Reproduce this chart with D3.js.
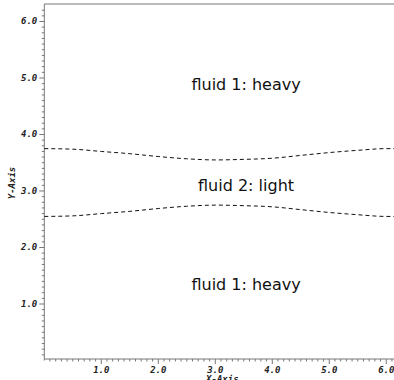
<!DOCTYPE html>
<html>
<head>
<meta charset="utf-8">
<script src="https://cdn.jsdelivr.net/npm/d3@7"></script>
<style>
  body { margin: 0; background: #fff; }
  svg { display: block; }
  .tick-label { font-family: "DejaVu Sans Mono", monospace; font-weight: bold; font-style: italic; font-size: 9px; fill: #222; }
  .region-label { font-family: "DejaVu Sans", sans-serif; font-size: 16px; fill: #111; }
</style>
</head>
<body>
<svg id="svg"></svg>
<script>
// Interface positions
const xs      = [0, 0.5, 1.0, 1.5, 2.0, 2.5, 3.0, 3.5, 4.0, 4.5, 5.0, 5.5, 6.0, 6.28];
const upperY  = [3.75, 3.74, 3.70, 3.66, 3.61, 3.57, 3.55, 3.56, 3.58, 3.63, 3.68, 3.72, 3.75, 3.75];
const lowerY  = [2.55, 2.56, 2.60, 2.64, 2.69, 2.73, 2.75, 2.74, 2.72, 2.67, 2.62, 2.58, 2.55, 2.55];

const majorTicks = [1, 2, 3, 4, 5, 6];
const tickLabels = ['1.0', '2.0', '3.0', '4.0', '5.0', '6.0'];

const regionNames = ['fluid 1: heavy', 'fluid 2: light', 'fluid 1: heavy'];
const regionX = [3.54, 3.54, 3.54];
const regionY = [4.78, 3.0, 1.24];

const width = 394;
const height = 380;

const svg = d3.select('#svg')
  .attr('width', width)
  .attr('height', height);

// plot box is square and runs off the right edge
const x = d3.scaleLinear().domain([0, 2 * Math.PI]).range([44.3, 402.4]);
const y = d3.scaleLinear().domain([0, 2 * Math.PI]).range([360.5, 5.5]);

const minorTicks = d3.range(1, 63).map(d => d / 10).filter(d => Math.abs(d - Math.round(d)) > 0.01);

const axisColor = '#777';

// y axis
const yAxis = svg.append('g').attr('transform', `translate(${x(0)},0)`);
yAxis.append('line')
  .attr('y1', y(0)).attr('y2', y(2 * Math.PI) - 1.5)
  .attr('stroke', axisColor);
yAxis.selectAll('.minor').data(minorTicks).join('line')
  .attr('x1', -2.5).attr('x2', 0)
  .attr('y1', d => y(d)).attr('y2', d => y(d))
  .attr('stroke', axisColor);
yAxis.selectAll('.major').data(majorTicks).join('line')
  .attr('x1', -5).attr('x2', 0)
  .attr('y1', d => y(d)).attr('y2', d => y(d))
  .attr('stroke', axisColor);
yAxis.selectAll('text').data(majorTicks).join('text')
  .attr('class', 'tick-label')
  .attr('x', -7)
  .attr('y', d => y(d) + 3)
  .attr('text-anchor', 'end')
  .text((d, i) => tickLabels[i]);

// x axis
const xAxis = svg.append('g').attr('transform', `translate(0,${y(0) - 1.5})`);
xAxis.append('line')
  .attr('x1', x(0)).attr('x2', x(2 * Math.PI))
  .attr('stroke', axisColor);
xAxis.selectAll('.minor').data(minorTicks).join('line')
  .attr('y1', 0).attr('y2', 2.5)
  .attr('x1', d => x(d)).attr('x2', d => x(d))
  .attr('stroke', axisColor);
xAxis.selectAll('.major').data(majorTicks).join('line')
  .attr('y1', 0).attr('y2', 5)
  .attr('x1', d => x(d)).attr('x2', d => x(d))
  .attr('stroke', axisColor);
xAxis.selectAll('text').data(majorTicks).join('text')
  .attr('class', 'tick-label')
  .attr('x', d => x(d))
  .attr('y', 14)
  .attr('text-anchor', 'middle')
  .text((d, i) => tickLabels[i]);

// top border
svg.append('line')
  .attr('x1', x(0)).attr('x2', x(2 * Math.PI))
  .attr('y1', y(2 * Math.PI) - 1.5).attr('y2', y(2 * Math.PI) - 1.5)
  .attr('stroke', axisColor);

// axis titles
svg.append('text')
  .attr('class', 'tick-label')
  .attr('x', (x(0) + x(2 * Math.PI)) / 2 - 1)
  .attr('y', 382)
  .attr('text-anchor', 'middle')
  .text('X-Axis');

svg.append('text')
  .attr('class', 'tick-label')
  .attr('transform', `translate(15,${(y(0) + y(2 * Math.PI)) / 2}) rotate(-90)`)
  .attr('text-anchor', 'middle')
  .text('Y-Axis');

// interfaces
const line = d3.line()
  .x((d, i) => x(xs[i]))
  .y(d => y(d))
  .curve(d3.curveMonotoneX);

[upperY, lowerY].forEach(series => {
  svg.append('path')
    .datum(series)
    .attr('d', line)
    .attr('fill', 'none')
    .attr('stroke', '#111')
    .attr('stroke-width', 1)
    .attr('stroke-dasharray', '4,3');
});

// region labels
svg.selectAll('.region-label').data(regionNames).join('text')
  .attr('class', 'region-label')
  .attr('x', (d, i) => x(regionX[i]))
  .attr('y', (d, i) => y(regionY[i]))
  .attr('text-anchor', 'middle')
  .text(d => d);
</script>
</body>
</html>
